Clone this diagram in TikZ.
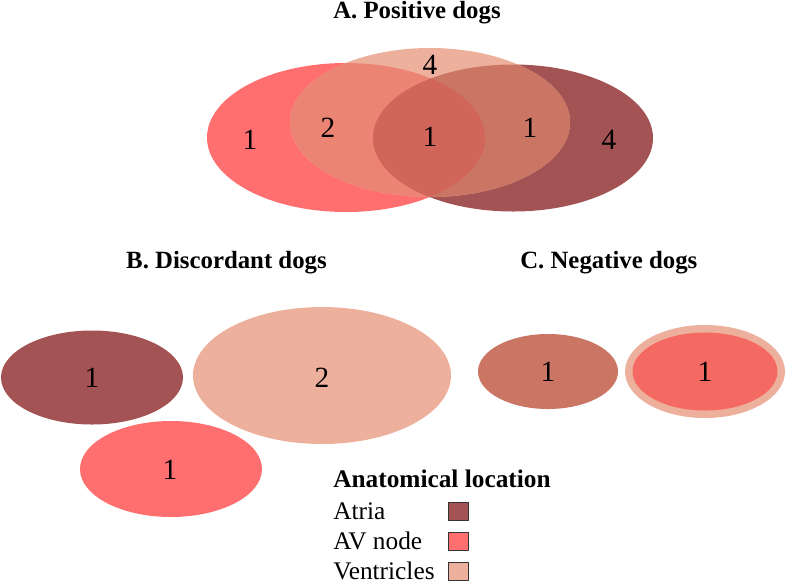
\documentclass[tikz,border=0pt]{standalone}
\usepackage{fontspec}
\setmainfont{Liberation Serif}
\definecolor{atria}{HTML}{A35353}
\definecolor{avnode}{HTML}{FF6F6F}
\definecolor{ventr}{HTML}{EDB09C}
\definecolor{avven}{HTML}{EC8474}
\definecolor{atven}{HTML}{CB7565}
\definecolor{allthree}{HTML}{D2655A}
\definecolor{avring}{HTML}{F46A63}
\tikzset{
  title/.style={font=\bfseries\fontsize{18.6}{22}\selectfont, inner sep=0pt},
  count/.style={font=\fontsize{22}{26}\selectfont, inner sep=0pt},
  legtext/.style={font=\fontsize{19}{22}\selectfont, inner sep=0pt, anchor=base west},
  legbox/.style={draw=black!80, line width=0.6pt}
}
\begin{document}
\begin{tikzpicture}[x=0.75pt, y=-0.75pt, line join=round]
  \useasboundingbox (0,0) rectangle (787,583);
  % A. positive dogs
  \path (346,137.5) coordinate (AV)
        (513,138) coordinate (At)
        (430,122.5) coordinate (Ve);
  \fill[avnode] (AV) ellipse (139 and 74.5);
  \fill[atria] (At) ellipse (140 and 73.5);
  \fill[ventr] (Ve) ellipse (140 and 74.5);
  \begin{scope}
    \clip (AV) ellipse (139 and 74.5);
    \fill[avven] (Ve) ellipse (140 and 74.5);
  \end{scope}
  \begin{scope}
    \clip (At) ellipse (140 and 73.5);
    \fill[atven] (Ve) ellipse (140 and 74.5);
    \clip (AV) ellipse (139 and 74.5);
    \fill[allthree] (At) ellipse (140 and 73.5);
  \end{scope}
  \node[title, anchor=base west] (tA) at (333,18) {A. Positive dogs};
  \foreach \n/\x/\y/\t in {a1/250/140/1, a2/328/128/2, a3/430/137/1,
                           a4/530/128/1, a5/609/140/4, a6/430/65/4} {
    \node[count] (\n) at (\x,\y) {\t};
  }
  % B. discordant dogs
  \path (92,377.5) coordinate (Bat)
        (322,375.5) coordinate (Bve)
        (171,469) coordinate (Bav);
  \fill[atria] (Bat) ellipse (91 and 47);
  \fill[ventr] (Bve) ellipse (129 and 68.5);
  \fill[avnode] (Bav) ellipse (91 and 48);
  \node[title, anchor=base east] (tB) at (327,268) {B. Discordant dogs};
  \node[count] (b1) at (92,378) {1};
  \node[count] (b2) at (322,378) {2};
  \node[count] (b3) at (170,470) {1};
  % C. negative dogs
  \path (548,371.5) coordinate (Cl)
        (705,371.5) coordinate (Cr);
  \fill[atven] (Cl) ellipse (70 and 37.5);
  \fill[ventr] (Cr) ellipse (80 and 46.5);
  \fill[avring] (Cr) ellipse (72.5 and 39);
  \node[title, anchor=base west] (tC) at (520,268) {C. Negative dogs};
  \node[count] (c1) at (548,372) {1};
  \node[count] (c2) at (705,372) {1};
  % legend
  \node[legtext, font=\bfseries\fontsize{19}{22}\selectfont] (leg) at (333,487) {Anatomical location};
  \foreach \t/\c/\y in {Atria/atria/519, AV node/avnode/549, Ventricles/ventr/579} {
    \node[legtext] (l\c) at (333,\y) {\t};
    \filldraw[legbox, fill=\c] (448,\y-17) rectangle (468,\y+1);
  }
\end{tikzpicture}
\end{document}
